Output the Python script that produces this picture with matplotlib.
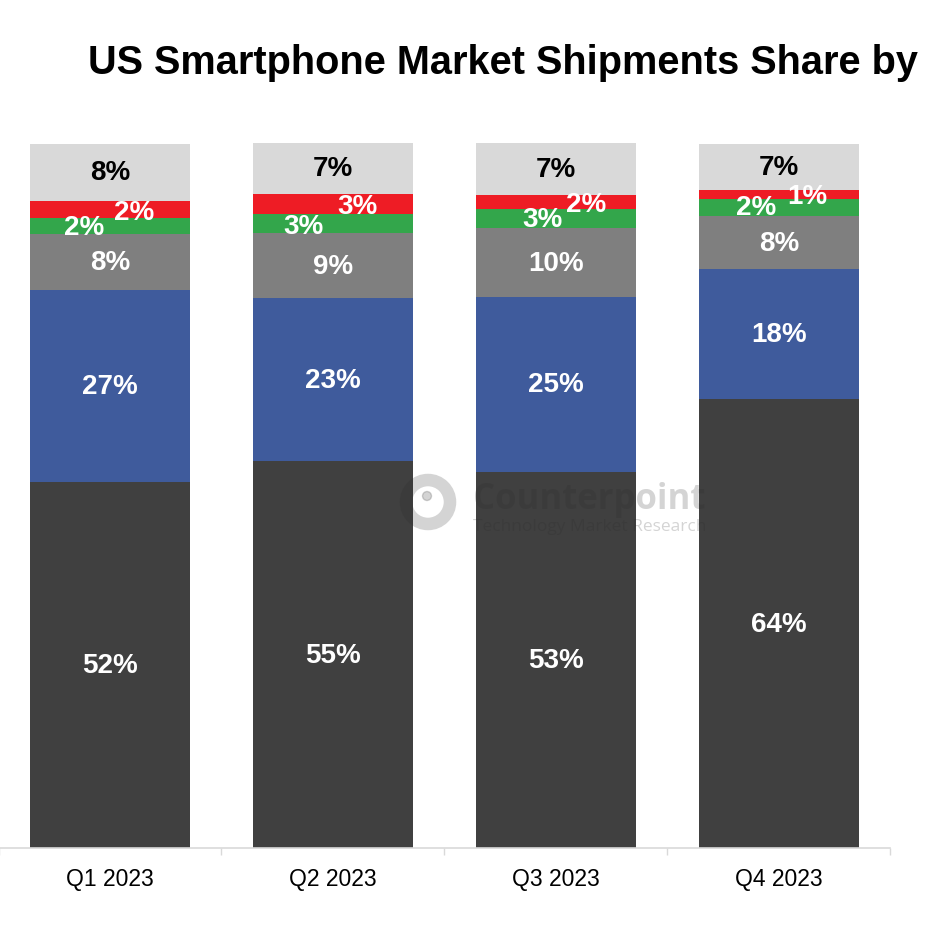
import matplotlib
matplotlib.use("Agg")
import matplotlib.pyplot as plt
from matplotlib.patches import Circle
import numpy as np

plt.rcParams['font.family'] = ['Liberation Sans', 'DejaVu Sans']

quarters = ["Q1 2023", "Q2 2023", "Q3 2023", "Q4 2023"]
apple = [51.8, 54.8, 53.3, 63.6]
samsung = [27.3, 23.1, 24.8, 18.4]
motorola = [7.9, 9.2, 9.7, 7.6]
green_brand = [2.3, 2.7, 2.7, 2.4]
red_brand = [2.4, 2.9, 2.1, 1.2]
others = [8.1, 7.2, 7.3, 6.6]

series = [apple, samsung, motorola, green_brand, red_brand, others]
colors = ["#404040", "#3F5B9C", "#7F7F7F", "#33A64B", "#EE1C25", "#D9D9D9"]
label_colors = ["white", "white", "white", "white", "white", "black"]
# label offsets in pixels (green, red segments are offset)
dx = [[0]*4, [0]*4, [0]*4, [-26, -30, -14, -23], [24, 24, 30, 28], [0]*4]
dy = [[0]*4, [0]*4, [0]*4, [-1, -2, 0, 0], [-3, -2, -2, -1], [0]*4]

W, H, DPI = 929, 928, 100
fig = plt.figure(figsize=(W/DPI, H/DPI), dpi=DPI)
ax = fig.add_axes([-1.5/W, (H-849)/H, 892/W, 705.7/H])

x = np.arange(len(quarters))
bottom = np.zeros(len(quarters))
for s, c, lc, ox, oy in zip(series, colors, label_colors, dx, dy):
    vals = np.array(s)
    ax.bar(x, vals, bottom=bottom, width=0.717, color=c, linewidth=0, zorder=2)
    for i, v in enumerate(vals):
        ax.annotate(f"{v:.0f}%", (x[i], bottom[i] + v/2),
                    xytext=(ox[i]*0.72, oy[i]*0.72), textcoords="offset points",
                    ha="center", va="center", fontsize=20,
                    fontweight="bold", color=lc, zorder=4)
    bottom += vals

ax.set_xlim(-0.5, 3.5)
ax.set_ylim(0, 100)
ax.set_yticks([])
ax.set_xticks(x)
ax.set_xticklabels(quarters, fontsize=16.5)
ax.tick_params(axis='x', which='major', length=0, pad=14)
ax.set_xticks(np.arange(-0.5, 4, 1), minor=True)
ax.tick_params(axis='x', which='minor', length=5, color="#D9D9D9", width=1)
for sp in ["left", "right", "top"]:
    ax.spines[sp].set_visible(False)
ax.spines["bottom"].set_color("#D9D9D9")
ax.spines["bottom"].set_linewidth(1.2)

fig.text(88/W, 1-73.5/H, "US Smartphone Market Shipments Share by",
         fontsize=28.6, fontweight="bold", ha="left", va="baseline", color="black")

# watermark
wm_col = "#2A2A2A"
wm_alpha = 0.2
circ = Circle((428/W, 1-503/H), 22/W, transform=fig.transFigure, fill=False,
              edgecolor=wm_col, linewidth=9, alpha=wm_alpha, zorder=5)
fig.add_artist(circ)
fig.add_artist(Circle((427/W, 1-497/H), 4.5/W, transform=fig.transFigure,
                      color=wm_col, alpha=wm_alpha, zorder=5))
fig.text(473/W, 1-509/H, "Counterpoint", fontsize=25, fontweight="bold",
         color=wm_col, alpha=wm_alpha, ha="left", va="baseline",
         family=["Open Sans", "DejaVu Sans"], zorder=5)
fig.text(473/W, 1-531/H, "Technology Market Research", fontsize=12.5,
         color=wm_col, alpha=wm_alpha, ha="left", va="baseline",
         family=["Open Sans", "DejaVu Sans"], zorder=5)

fig.savefig("out.png", dpi=DPI)
